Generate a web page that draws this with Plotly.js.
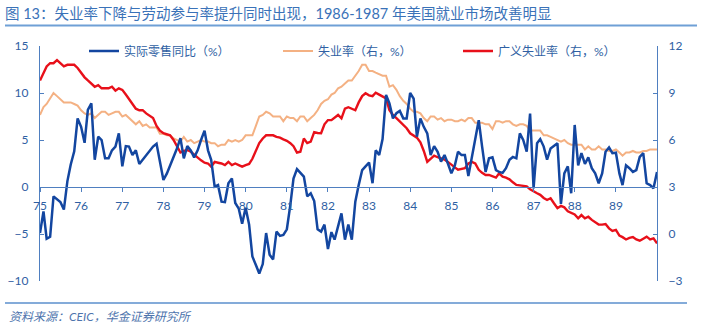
<!DOCTYPE html>
<html>
<head>
<meta charset="utf-8">
<script src="https://cdn.plot.ly/plotly-3.0.1.min.js"></script>
<style>
html,body{margin:0;padding:0;background:#fff;}
#chart{width:701px;height:332px;}
</style>
</head>
<body>
<div id="chart"></div>
<script>
// ---- data (monthly, Jan 1975 – Jan 1990) ----
const startYear = 1975;
const yearLabels = ['75','76','77','78','79','80','81','82','83','84','85','86','87','88','89'];

// 实际零售同比（%）  left axis
const retailYoY = [
 -4.9,-2.6,-5.5,-5.3,-1.0,-1.3,-1.6,-2.4,0.6,2.4,3.8,7.3,
 6.4,4.7,8.2,8.9,2.9,5.35,5.0,3.05,3.05,3.9,4.3,5.7,
 2.2,4.35,4.3,3.4,3.9,2.45,2.9,3.4,3.75,4.3,4.6,2.6,
 0.74,1.45,2.3,3.05,4.1,5.2,3.05,4.35,3.9,3.15,3.9,5.0,
 6.0,3.9,2.9,0.03,0.2,-1.56,-1.6,0.4,0.9,-1.7,-2.3,-3.9,
 -2.2,-4.0,-7.4,-8.3,-9.2,-8.2,-4.9,-7.2,-7.7,-4.75,-5.2,-5.1,
 -4.5,-1.9,0.9,1.9,1.45,1.1,-1.0,-0.67,-1.5,-4.5,-4.75,-4.0,
 -6.6,-4.8,-5.6,-4.2,-2.8,-5.6,-4.0,-5.6,-1.56,0.2,1.8,2.2,
 2.6,0.4,3.9,3.4,5.1,9.8,8.9,7.3,7.85,8.1,7.3,7.3,
 10.0,9.4,5.35,7.3,6.4,5.7,3.4,4.35,3.75,2.7,3.4,2.5,
 1.45,2.3,3.75,3.4,3.4,1.17,3.2,5.0,7.1,4.3,1.6,3.05,
 3.15,1.8,1.6,1.5,2.0,2.9,3.2,3.05,5.7,5.0,3.75,7.8,
 -0.14,4.65,5.1,4.3,2.9,4.1,4.35,4.65,-1.8,1.45,2.2,-0.67,
 6.6,2.3,3.6,2.45,3.15,2.0,1.45,0.4,1.45,3.75,4.2,3.6,
 3.65,1.45,0.2,2.3,2.0,1.6,1.8,3.2,3.6,0.4,0.2,-0.14,
 1.6
];

// 失业率（右，%）  right axis
const unemployment = [
 7.6,8.1,8.3,8.7,9.0,8.8,8.6,8.4,8.4,8.4,8.3,8.2,
 7.9,7.7,7.6,7.7,7.4,7.6,7.8,7.8,7.6,7.7,7.8,7.8,
 7.5,7.6,7.4,7.2,7.0,7.2,6.9,7.0,6.8,6.8,6.8,6.4,
 6.4,6.3,6.3,6.1,6.0,5.9,6.2,5.9,6.0,5.8,5.9,6.0,
 5.9,5.9,5.8,5.8,5.6,5.7,5.7,6.0,5.9,6.0,5.9,6.0,
 6.3,6.3,6.3,6.9,7.5,7.6,7.8,7.7,7.5,7.5,7.5,7.2,
 7.5,7.4,7.4,7.2,7.5,7.5,7.2,7.4,7.6,7.9,8.3,8.5,
 8.6,8.9,9.0,9.3,9.4,9.6,9.8,9.8,10.1,10.4,10.8,10.8,
 10.4,10.4,10.3,10.2,10.1,10.1,9.4,9.5,9.2,8.8,8.5,8.3,
 8.0,7.8,7.8,7.7,7.4,7.2,7.5,7.5,7.3,7.4,7.2,7.3,
 7.3,7.2,7.2,7.3,7.2,7.4,7.4,7.1,7.1,7.1,7.0,7.0,
 6.7,7.2,7.2,7.1,7.2,7.2,7.0,6.9,7.0,7.0,6.9,6.6,
 6.6,6.6,6.6,6.3,6.3,6.2,6.1,6.0,5.9,6.0,5.8,5.7,
 5.7,5.7,5.7,5.4,5.6,5.4,5.4,5.6,5.4,5.4,5.3,5.3,
 5.4,5.2,5.0,5.2,5.2,5.3,5.2,5.2,5.3,5.3,5.4,5.4,
 5.4
];

// 广义失业率（右，%）  right axis
const broadUnemployment = [
 9.8,10.3,10.7,10.9,10.9,11.1,10.9,10.7,10.8,10.8,10.8,10.6,
 10.3,10.0,9.8,9.6,9.4,9.5,9.3,9.3,9.3,9.4,9.15,9.3,
 9.2,8.9,8.6,8.35,8.0,7.9,7.9,7.7,7.55,7.4,6.9,6.6,
 6.43,6.35,6.3,6.0,5.6,5.2,5.3,5.36,5.25,5.05,4.85,4.7,
 4.55,4.5,4.3,4.6,4.55,4.5,4.4,4.6,4.4,4.5,4.4,4.3,
 4.4,4.47,4.8,5.3,5.8,6.1,6.3,6.3,6.3,6.2,6.15,6.04,
 5.95,5.8,5.6,5.2,5.25,6.1,5.8,5.9,6.5,6.45,6.43,7.0,
 7.27,7.27,7.4,7.6,7.38,8.0,8.09,8.0,7.9,8.4,8.8,8.98,
 8.85,8.8,9.02,8.9,8.76,8.66,7.9,7.6,7.4,7.2,7.0,6.75,
 6.43,6.3,6.15,5.85,5.3,4.6,4.8,5.0,4.9,4.83,4.75,4.6,
 4.4,4.25,4.1,4.15,4.2,4.5,4.6,4.5,4.1,3.9,3.77,3.77,
 3.7,3.6,3.87,3.66,3.6,3.49,3.3,3.13,3.1,3.08,3.04,2.85,
 2.7,2.6,2.5,2.3,2.17,2.28,1.96,1.65,1.79,1.7,1.45,1.35,
 1.25,1.0,1.21,1.0,1.1,0.9,0.75,0.6,0.6,0.64,0.36,0.2,
 0.26,-0.1,-0.2,-0.35,-0.25,-0.2,-0.35,-0.43,-0.3,-0.17,-0.34,-0.28,
 -0.6
];

const seriesNames = ['实际零售同比（%）','失业率（右，%）','广义失业率（右，%）'];

// month dates built from series length
const dates = retailYoY.map((_, i) => {
  const y = startYear + Math.floor(i / 12);
  const m = (i % 12) + 1;
  return y + '-' + (m < 10 ? '0' + m : m) + '-01';
});
const tickVals = yearLabels.map((_, i) => (startYear + i) + '-01-01');

const axisBlue = '#4f7fc0';
const textBlue = '#2f5fa3';
const FONT = 'Lato, "Noto Sans CJK SC", sans-serif';

const traces = [
  {x: dates, y: unemployment, name: seriesNames[1], type: 'scatter', mode: 'lines',
   yaxis: 'y', legend: 'legend2', line: {color: '#f4b183', width: 2}},
  {x: dates, y: broadUnemployment, name: seriesNames[2], type: 'scatter', mode: 'lines',
   yaxis: 'y', legend: 'legend3', line: {color: '#e8101a', width: 2.4}},
  {x: dates, y: retailYoY, name: seriesNames[0], type: 'scatter', mode: 'lines',
   yaxis: 'y2', legend: 'legend', line: {color: '#1346a0', width: 2.5}}
];

const pxX = px => (px - 40) / 617;
const pxY = py => (281 - py) / 235;

const legendCommon = {orientation: 'h', xanchor: 'left', yanchor: 'middle',
  bgcolor: 'rgba(0,0,0,0)', font: {family: FONT, size: 12, color: textBlue}};

const layout = {
  width: 701, height: 332,
  margin: {l: 40, r: 44, t: 46, b: 51},
  paper_bgcolor: '#ffffff', plot_bgcolor: 'rgba(0,0,0,0)',
  font: {family: FONT, size: 12, color: textBlue},
  title: {text: '图 13：失业率下降与劳动参与率提升同时出现，1986-1987 年美国就业市场改善明显',
    x: 5/701, xanchor: 'left', xref: 'container', y: 1 - 14/332, yref: 'container', yanchor: 'middle',
    font: {family: FONT, size: 14.5, color: '#3a72b8'}},
  xaxis: {type: 'date', range: ['1975-01-01', '1990-01-01'], anchor: 'free', position: 0.4,
    tickmode: 'array', tickvals: tickVals, ticktext: yearLabels,
    showgrid: false, zeroline: false, showline: true, linecolor: axisBlue, linewidth: 1.2,
    ticks: 'outside', ticklen: 4, tickcolor: axisBlue, ticklabelstandoff: 3,
    tickfont: {family: FONT, size: 12, color: textBlue}},
  yaxis: {side: 'right', range: [-3, 12], dtick: 3, tick0: 0,
    showgrid: false, zeroline: false, showline: true, linecolor: axisBlue, linewidth: 1.2,
    ticks: 'inside', ticklen: 4, tickcolor: axisBlue, ticklabelstandoff: 8,
    tickfont: {family: FONT, size: 12, color: textBlue}},
  yaxis2: {side: 'left', overlaying: 'y', range: [-10, 15], dtick: 5, tick0: 0,
    showgrid: false, zeroline: false, showline: true, linecolor: axisBlue, linewidth: 1.2,
    ticks: 'inside', ticklen: 4, tickcolor: axisBlue, ticklabelstandoff: 8,
    tickfont: {family: FONT, size: 12, color: textBlue}},
  legend: Object.assign({x: pxX(84), y: pxY(51)}, legendCommon),
  legend2: Object.assign({x: pxX(278), y: pxY(51)}, legendCommon),
  legend3: Object.assign({x: pxX(458), y: pxY(51)}, legendCommon),
  shapes: [
    {type: 'line', xref: 'paper', yref: 'paper', x0: pxX(5), x1: pxX(697), y0: pxY(25.5), y1: pxY(25.5),
     line: {color: '#6fa0d6', width: 2}},
    {type: 'line', xref: 'paper', yref: 'paper', x0: pxX(5), x1: pxX(687), y0: pxY(303), y1: pxY(303),
     line: {color: '#5b8fcc', width: 1.5}}
  ],
  annotations: [
    {text: '<i>资料来源：CEIC，华金证券研究所</i>', xref: 'paper', yref: 'paper',
     x: pxX(7), y: pxY(316), xanchor: 'left', yanchor: 'middle', showarrow: false,
     font: {family: FONT, size: 12, color: '#4e74ad'}}
  ],
  showlegend: true
};

Plotly.newPlot('chart', traces, layout, {displayModeBar: false, staticPlot: true});
</script>
</body>
</html>
